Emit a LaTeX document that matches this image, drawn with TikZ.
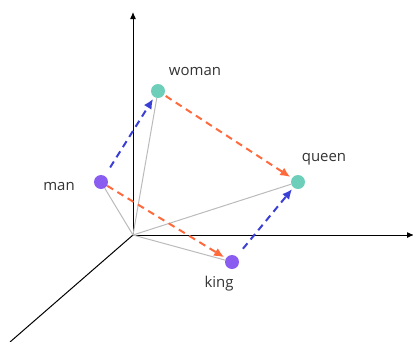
\documentclass[tikz,border=0pt]{standalone}
\usepackage{fontspec}
\setmainfont{Open Sans}
\usetikzlibrary{arrows.meta}
\definecolor{teal1}{HTML}{6DCFB9}
\definecolor{purp}{HTML}{8B5CF0}
\definecolor{redo}{HTML}{FF6A3D}
\definecolor{blu}{HTML}{3A3FD6}
\definecolor{gry}{HTML}{BBBBBB}
\tikzset{
  pt/.style={circle,inner sep=0pt,minimum size=14bp},
  lbl/.style={font=\fontsize{15}{17}\selectfont,text=black!80,inner sep=0pt},
  axis/.style={line width=1bp,black,-{Latex[length=7bp,width=6bp]}},
  ray/.style={gry,line width=1bp},
  dsh/.style={line width=2bp,dash pattern=on 7bp off 5bp,-{Latex[length=10bp,width=9bp]}},
}
\begin{document}
\begin{tikzpicture}[x=1bp,y=-1bp]
\useasboundingbox (0,0) rectangle (413,342);
\coordinate (o) at (133,235);
\coordinate (ytop) at (133,12);
\coordinate (xend) at (414,235);
\coordinate (zend) at (10,342);
\draw[axis] (o) -- (ytop);
\draw[axis] (o) -- (xend);
\draw[line width=1bp,black] (o) -- (zend);
\node[pt,fill=teal1] (woman) at (158,91) {};
\node[pt,fill=teal1] (queen) at (298,182) {};
\node[pt,fill=purp] (man) at (101,182) {};
\node[pt,fill=purp] (king) at (232,262) {};
\draw[ray] (o) -- (woman);
\draw[ray] (o) -- (queen);
\draw[ray] (o) -- (man);
\draw[ray] (o) -- (king);
\draw[dsh,blu,shorten <=10bp,shorten >=2bp] (man) -- (woman);
\draw[dsh,blu,shorten <=10bp,shorten >=2bp] (king) -- (queen);
\draw[dsh,redo,shorten <=2bp,shorten >=2bp] (woman) -- (queen);
\draw[dsh,redo,shorten <=0bp,shorten >=2bp] (man) -- (king);
\node[lbl] (lw) at (195,71) {woman};
\node[lbl] (lq) at (324,159) {queen};
\node[lbl] (lm) at (59,186) {man};
\node[lbl] (lk) at (219,284) {king};
\end{tikzpicture}
\end{document}
